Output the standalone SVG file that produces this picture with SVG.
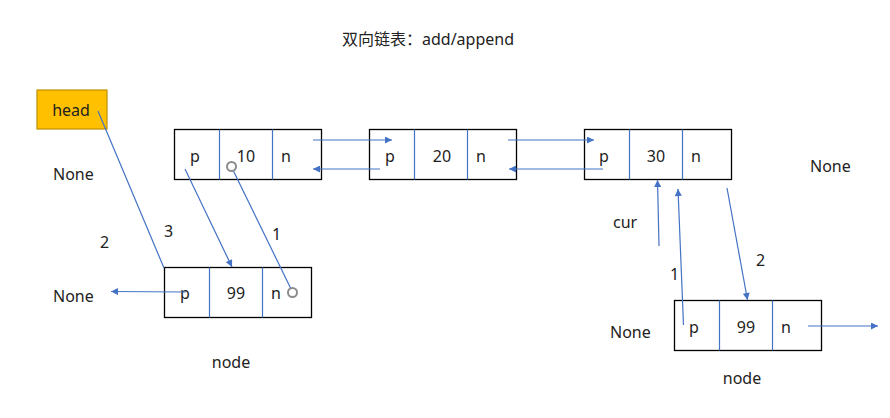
<svg xmlns="http://www.w3.org/2000/svg" width="890" height="418" viewBox="0 0 890 418">
<defs>
<marker id="ah" viewBox="0 0 10 10" refX="10" refY="5" markerWidth="8" markerHeight="7" markerUnits="userSpaceOnUse" orient="auto">
<path d="M0,0 L10,5 L0,10 z" fill="#4472C4"/>
</marker>
<style>
text{font-family:"Noto Sans","Noto Sans CJK SC",sans-serif;font-size:16px;fill:#222}
.box{fill:#fff;stroke:#000;stroke-width:1.3}
.div{stroke:#4472C4;stroke-width:1.2}
.ln{stroke:#4472C4;stroke-width:1.2;fill:none}
.arr{stroke:#4472C4;stroke-width:1.2;fill:none;marker-end:url(#ah)}
.dot{fill:#fff;stroke:#8c8c8c;stroke-width:2}
.c{text-anchor:middle}
</style>
</defs>
<rect width="890" height="418" fill="#fff"/>
<text x="342" y="45">双向链表：add/append</text>

<g id="head">
<rect x="37" y="90" width="70" height="39" fill="#FFC000" stroke="#BF9000" stroke-width="1.2"/>
<text x="71" y="116" class="c">head</text>
</g>

<g id="node10">
<rect class="box" x="174.5" y="129.5" width="147" height="50"/>
<line class="div" x1="219.5" y1="129.5" x2="219.5" y2="179.5"/>
<line class="div" x1="272.5" y1="129.5" x2="272.5" y2="179.5"/>
<text x="195" y="162" class="c">p</text>
<text x="246" y="162" class="c">10</text>
<text x="286" y="162" class="c">n</text>
</g>

<g id="node20">
<rect class="box" x="369.5" y="129.5" width="147" height="50"/>
<line class="div" x1="414.5" y1="129.5" x2="414.5" y2="179.5"/>
<line class="div" x1="467.5" y1="129.5" x2="467.5" y2="179.5"/>
<text x="390" y="162" class="c">p</text>
<text x="442" y="162" class="c">20</text>
<text x="481" y="162" class="c">n</text>
</g>

<g id="node30">
<rect class="box" x="584.5" y="129.5" width="147" height="50"/>
<line class="div" x1="629.5" y1="129.5" x2="629.5" y2="179.5"/>
<line class="div" x1="682.5" y1="129.5" x2="682.5" y2="179.5"/>
<text x="604" y="162" class="c">p</text>
<text x="656" y="162" class="c">30</text>
<text x="696" y="162" class="c">n</text>
</g>

<g id="node99a">
<rect class="box" x="164.5" y="267.5" width="147" height="50"/>
<line class="div" x1="209.5" y1="267.5" x2="209.5" y2="317.5"/>
<line class="div" x1="262.5" y1="267.5" x2="262.5" y2="317.5"/>
<text x="185" y="299" class="c">p</text>
<text x="236" y="299" class="c">99</text>
<text x="276" y="299" class="c">n</text>
</g>

<g id="node99b">
<rect class="box" x="674.5" y="300.5" width="147" height="50"/>
<line class="div" x1="719.5" y1="300.5" x2="719.5" y2="350.5"/>
<line class="div" x1="772.5" y1="300.5" x2="772.5" y2="350.5"/>
<text x="694" y="333" class="c">p</text>
<text x="746" y="333" class="c">99</text>
<text x="786" y="333" class="c">n</text>
</g>

<g id="labels">
<text x="53" y="180">None</text>
<text x="53" y="302">None</text>
<text x="810" y="172">None</text>
<text x="610" y="338">None</text>
<text x="613" y="228">cur</text>
<text x="100" y="248">2</text>
<text x="164" y="237">3</text>
<text x="272" y="240">1</text>
<text x="670" y="280">1</text>
<text x="756" y="266">2</text>
<text x="231" y="368" class="c">node</text>
<text x="742" y="384" class="c">node</text>
</g>

<g id="connectors">
<line class="arr" x1="313" y1="140" x2="392" y2="140"/>
<line class="arr" x1="380" y1="169" x2="313" y2="169"/>
<line class="arr" x1="508" y1="140" x2="594" y2="140"/>
<line class="arr" x1="603" y1="169" x2="509" y2="169"/>
<line class="ln" x1="98" y1="111" x2="164" y2="268"/>
<line class="arr" x1="185" y1="169" x2="232" y2="267"/>
<line class="ln" x1="231" y1="166" x2="293" y2="293"/>
<circle class="dot" cx="231.5" cy="166.5" r="4.5"/>
<circle class="dot" cx="292.5" cy="292.5" r="4.5"/>
<line class="arr" x1="186" y1="292" x2="111" y2="291.5"/>
<line class="arr" x1="659" y1="246" x2="657.5" y2="180"/>
<line class="arr" x1="683.5" y1="325" x2="678" y2="189"/>
<line class="arr" x1="727" y1="188" x2="747.5" y2="300"/>
<line class="arr" x1="808" y1="326" x2="878" y2="326"/>
</g>
</svg>
